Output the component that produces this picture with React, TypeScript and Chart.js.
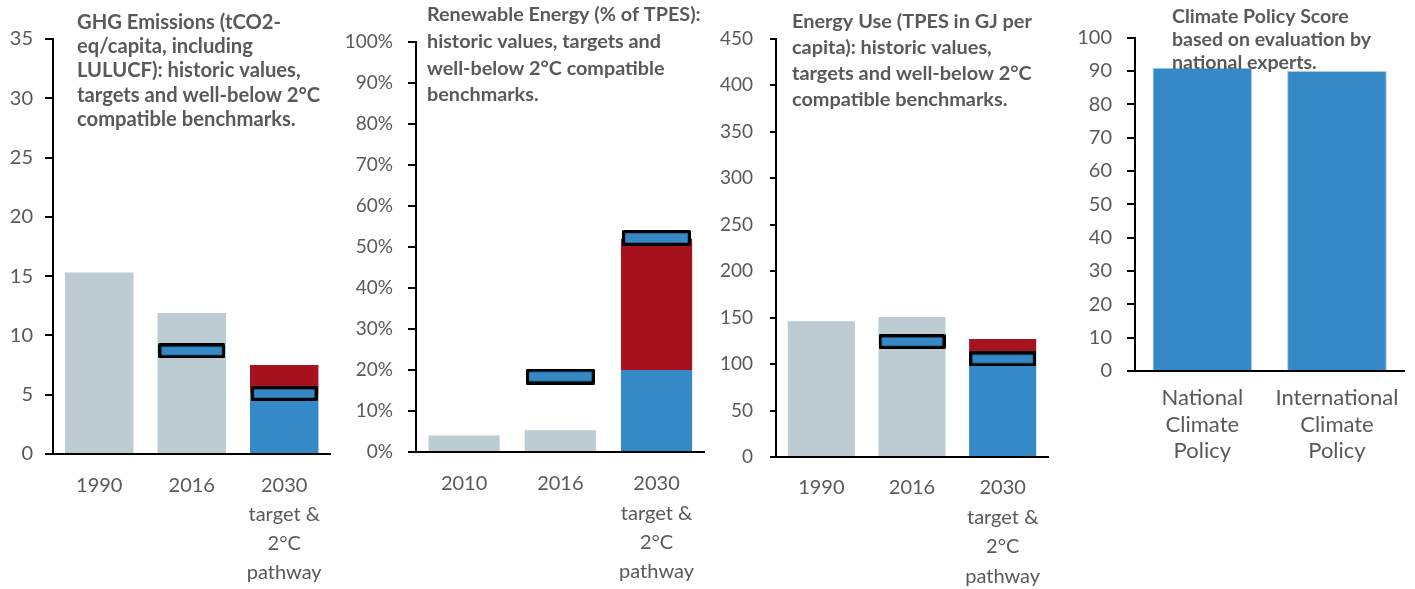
import React, { useEffect, useRef } from "react";
import { Chart, registerables } from "chart.js";

Chart.register(...registerables);

const GREY = "#BDCBD2";
const BLUE = "#3589C6";
const RED = "#A6131F";
const TEXT = "#595959";
const FONT = "Lato, 'Open Sans', sans-serif";

const pathwayLabel = ["2030", "target &", "2°C", "pathway"];

// Panel 1: GHG emissions
const ghgCategories = ["1990", "2016", pathwayLabel];
const ghgHistoric = [15.3, 11.9, null];
const ghgPathway = [null, null, 5.1];
const ghgBenchmark = [null, null, 7.5];
const ghgTargets = [null, 8.7, 5.1];
const ghgTitle = ["GHG Emissions (tCO2-", "eq/capita, including", "LULUCF): historic values,", "targets and well-below 2°C", "compatible benchmarks."];

// Panel 2: renewable energy share (%)
const reCategories = ["2010", "2016", pathwayLabel];
const reHistoric = [4.0, 5.3, null];
const rePathway = [null, null, 20];
const reBenchmark = [null, null, 52];
const reTargets = [null, 18.4, 52.2];
const reTitle = ["Renewable Energy (% of TPES):", "historic values, targets and", "well-below 2°C compatible", "benchmarks."];

// Panel 3: energy use (GJ per capita)
const euCategories = ["1990", "2016", pathwayLabel];
const euHistoric = [146, 150.5, null];
const euPathway = [null, null, 110];
const euBenchmark = [null, null, 127];
const euTargets = [null, 124, 105.5];
const euTitle = ["Energy Use (TPES in GJ per", "capita): historic values,", "targets and well-below 2°C", "compatible benchmarks."];

// Panel 4: climate policy score
const cpCategories = [["National", "Climate", "Policy"], ["International", "Climate", "Policy"]];
const cpScores = [91, 90];
const cpTitle = ["Climate Policy Score", "based on evaluation by", "national experts."];

const titlePlugin = {
  id: "panelTitle",
  afterDraw(chart: any, _args: any, opts: any) {
    if (!opts || !opts.lines) return;
    const ctx = chart.ctx;
    ctx.save();
    ctx.font = `bold ${opts.size}px ${FONT}`;
    ctx.fillStyle = TEXT;
    ctx.textBaseline = "middle";
    ctx.textAlign = "left";
    opts.lines.forEach((line: string, i: number) => ctx.fillText(line, opts.x, opts.y + i * opts.spacing));
    ctx.restore();
  },
};

function makeBox(w: number, h: number) {
  const c = document.createElement("canvas");
  c.width = w;
  c.height = h;
  const ctx = c.getContext("2d")!;
  ctx.fillStyle = BLUE;
  ctx.strokeStyle = "#000";
  ctx.lineWidth = 3.2;
  ctx.lineJoin = "round";
  ctx.beginPath();
  ctx.rect(1.6, 1.6, w - 3.2, h - 3.2);
  ctx.fill();
  ctx.stroke();
  return c;
}

type Spec = {
  left: number;
  width: number;
  labels: any[];
  historic?: (number | null)[];
  pathway: (number | null)[];
  benchmark?: (number | null)[];
  targets?: (number | null)[];
  min: number;
  max: number;
  step: number;
  percent?: boolean;
  yWidth: number;
  padTop: number;
  padRight: number;
  xHeight: number;
  tickLength: number;
  yPad: number;
  yFont: number;
  xFont: number;
  xLine: number;
  xPad: number;
  box?: [number, number];
  title: { lines: string[]; x: number; y: number; spacing: number; size: number };
  barBorder?: string;
};

function buildConfig(spec: Spec): any {
  const common = { grouped: false, barPercentage: 0.74, categoryPercentage: 1 };
  const datasets: any[] = [];
  if (spec.targets && spec.box) {
    datasets.push({
      type: "line",
      data: spec.targets,
      showLine: false,
      pointStyle: makeBox(spec.box[0], spec.box[1]),
      pointRadius: 5,
      pointHoverRadius: 5,
      order: 0,
    });
  }
  if (spec.benchmark) {
    datasets.push({
      type: "bar",
      data: spec.benchmark.map((b, i) => (b == null ? null : [spec.pathway[i] as number, b])),
      backgroundColor: RED,
      order: 1,
      ...common,
    });
  }
  datasets.push({
    type: "bar",
    data: spec.pathway,
    backgroundColor: BLUE,
    borderColor: spec.barBorder || BLUE,
    borderWidth: spec.barBorder ? 1 : 0,
    order: 2,
    ...common,
  });
  if (spec.historic) {
    datasets.push({ type: "bar", data: spec.historic, backgroundColor: GREY, order: 3, ...common });
  }
  return {
    type: "bar",
    data: { labels: spec.labels, datasets },
    plugins: [titlePlugin],
    options: {
      animation: false,
      responsive: false,
      events: [],
      layout: { padding: { left: 0, top: spec.padTop, right: spec.padRight, bottom: 0 } },
      plugins: {
        legend: { display: false },
        tooltip: { enabled: false },
        panelTitle: spec.title,
      },
      scales: {
        x: {
          grid: { display: false, drawTicks: false },
          border: { display: true, color: "#000", width: 2 },
          ticks: {
            color: TEXT,
            font: { family: FONT, size: spec.xFont, lineHeight: spec.xLine },
            padding: spec.xPad,
            maxRotation: 0,
            autoSkip: false,
          },
          afterFit: (s: any) => {
            s.height = spec.xHeight;
          },
        },
        y: {
          min: spec.min,
          max: spec.max,
          ticks: {
            stepSize: spec.step,
            color: TEXT,
            font: { family: FONT, size: spec.yFont },
            padding: spec.yPad,
            callback: (v: any) => (spec.percent ? `${v}%` : `${v}`),
          },
          grid: { display: true, drawOnChartArea: false, drawTicks: true, tickLength: spec.tickLength, color: "#000", lineWidth: 2 },
          border: { display: true, color: "#000", width: 2 },
          afterFit: (s: any) => {
            s.width = spec.yWidth;
          },
        },
      },
    },
  };
}

const specs: Spec[] = [
  {
    left: 0, width: 340, labels: ghgCategories, historic: ghgHistoric, pathway: ghgPathway, benchmark: ghgBenchmark, targets: ghgTargets,
    min: 0, max: 35, step: 5, yWidth: 53, padTop: 39, padRight: 8, xHeight: 135, tickLength: 8, yPad: 12, yFont: 20, xFont: 20, xLine: 1.45, xPad: 17,
    box: [67, 15], title: { lines: ghgTitle, x: 77, y: 22, spacing: 24.4, size: 20.2 },
  },
  {
    left: 340, width: 372, labels: reCategories, historic: reHistoric, pathway: rePathway, benchmark: reBenchmark, targets: reTargets,
    min: 0, max: 100, step: 10, percent: true, yWidth: 76, padTop: 42, padRight: 5, xHeight: 137, tickLength: 8, yPad: 15, yFont: 19, xFont: 20, xLine: 1.47, xPad: 17,
    box: [69, 16], title: { lines: reTitle, x: 87, y: 15, spacing: 26.7, size: 19.8 },
  },
  {
    left: 712, width: 350, labels: euCategories, historic: euHistoric, pathway: euPathway, benchmark: euBenchmark, targets: euTargets,
    min: 0, max: 450, step: 50, yWidth: 64, padTop: 38.5, padRight: 14, xHeight: 132, tickLength: 6, yPad: 17, yFont: 19, xFont: 20, xLine: 1.48, xPad: 16,
    box: [67, 15], title: { lines: euTitle, x: 80, y: 22, spacing: 25.8, size: 19.9 },
  },
  {
    left: 1062, width: 353, labels: cpCategories, pathway: cpScores,
    min: 0, max: 100, step: 10, yWidth: 73, padTop: 37.7, padRight: 10, xHeight: 218, tickLength: 8, yPad: 15, yFont: 20, xFont: 22, xLine: 1.2, xPad: 14,
    title: { lines: cpTitle, x: 110, y: 17, spacing: 23, size: 19.5 }, barBorder: "#A9CCEA",
  },
];

function Panel({ spec }: { spec: Spec }) {
  const ref = useRef<HTMLCanvasElement | null>(null);
  useEffect(() => {
    if (!ref.current) return;
    const chart = new Chart(ref.current, buildConfig(spec));
    return () => chart.destroy();
  }, [spec]);
  return (
    <div style={{ position: "absolute", left: spec.left, top: 0, width: spec.width, height: 589 }}>
      <canvas ref={ref} width={spec.width} height={589} style={{ display: "block", width: spec.width, height: 589 }} />
    </div>
  );
}

export default function App() {
  return (
    <div style={{ position: "fixed", left: 0, top: 0, width: 1415, height: 589, background: "#fff", overflow: "hidden" }}>
      {specs.map((s, i) => (
        <Panel key={i} spec={s} />
      ))}
    </div>
  );
}
